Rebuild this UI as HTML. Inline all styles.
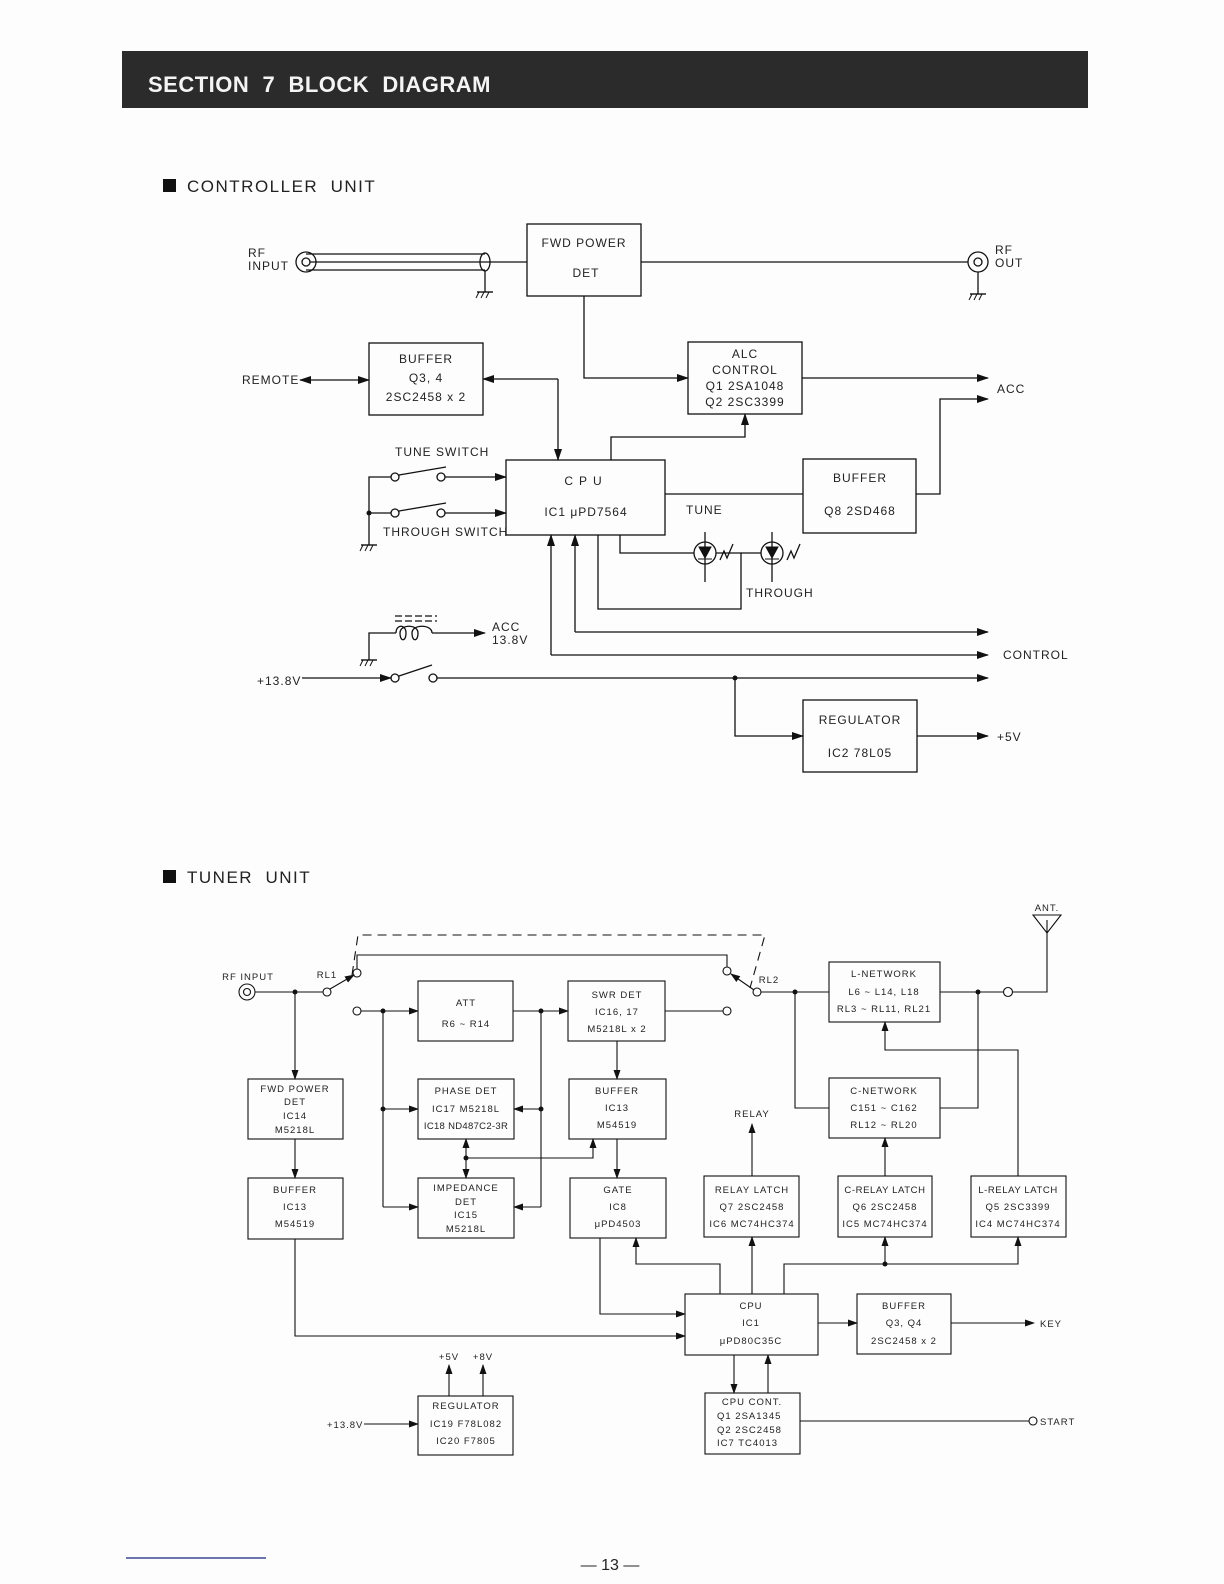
<!DOCTYPE html>
<html><head><meta charset="utf-8"><style>
html,body{margin:0;padding:0;background:#fdfdfd}
svg{display:block}
text{font-family:"Liberation Sans",sans-serif;fill:#222}
.c{font-size:12px;letter-spacing:1px}
.t{font-size:9.5px;letter-spacing:1px}
</style></head><body>
<svg width="1224" height="1584" viewBox="0 0 1224 1584" xmlns="http://www.w3.org/2000/svg">
<defs>
<marker id="a" markerWidth="12" markerHeight="8" refX="11" refY="4" orient="auto" markerUnits="userSpaceOnUse"><path d="M0,0 L12,4 L0,8 z" fill="#111"/></marker>
<marker id="s" markerWidth="10" markerHeight="7" refX="9" refY="3.5" orient="auto" markerUnits="userSpaceOnUse"><path d="M0,0 L10,3.5 L0,7 z" fill="#111"/></marker>
<marker id="ar" markerWidth="12" markerHeight="8" refX="1" refY="4" orient="auto" markerUnits="userSpaceOnUse"><path d="M12,0 L0,4 L12,8 z" fill="#111"/></marker>
<g id="gnd"><line x1="-8" y1="0" x2="8" y2="0" stroke="#111" stroke-width="1.4"/><line x1="-6" y1="0" x2="-9" y2="6" stroke="#111"/><line x1="-1" y1="0" x2="-4" y2="6" stroke="#111"/><line x1="4" y1="0" x2="1" y2="6" stroke="#111"/></g>
</defs>
<rect x="122" y="51" width="966" height="57" fill="#2b2b2b"/>
<text x="148" y="92" style="font-size:22px;font-weight:bold;fill:#f4f4f4;letter-spacing:0.5px">SECTION&#160;&#160;7&#160;&#160;BLOCK&#160;&#160;DIAGRAM</text>

<rect x="163" y="179" width="13" height="13" fill="#111"/>
<text x="187" y="192" style="font-size:17px;letter-spacing:1.5px">CONTROLLER&#160;&#160;UNIT</text>

<g stroke="#111" stroke-width="1.3" fill="none">
<rect x="527" y="224" width="114" height="72"/>
<rect x="688" y="342" width="114" height="72"/>
<rect x="369" y="343" width="114" height="72"/>
<rect x="506" y="460" width="159" height="75"/>
<rect x="803" y="459" width="113" height="74"/>
<rect x="803" y="700" width="114" height="72"/>
<circle cx="306" cy="262" r="10"/><circle cx="306" cy="262" r="4"/>
<line x1="306" y1="254" x2="485" y2="254"/><line x1="306" y1="270" x2="485" y2="270"/>
<line x1="310" y1="262" x2="527" y2="262"/>
<ellipse cx="485" cy="262" rx="5" ry="9"/>
<line x1="485" y1="271" x2="485" y2="292"/>
<line x1="641" y1="262" x2="968" y2="262"/>
<circle cx="978" cy="262" r="10"/><circle cx="978" cy="262" r="4"/>
<line x1="978" y1="272" x2="978" y2="294"/>
<polyline points="584,296 584,378 688,378" marker-end="url(#a)"/>
<line x1="802" y1="378" x2="988" y2="378" marker-end="url(#a)"/>
<polyline points="916,494 940,494 940,399 988,399" marker-end="url(#a)"/>
<line x1="300" y1="380" x2="369" y2="380" marker-end="url(#a)" marker-start="url(#ar)"/>
<polyline points="558,379 483,379" marker-end="url(#a)"/>
<line x1="558" y1="379" x2="558" y2="460" marker-end="url(#a)"/>
<polyline points="611,460 611,437 745,437 745,414" marker-end="url(#a)"/>
<line x1="665" y1="494" x2="803" y2="494"/>
<polyline points="369,545 369,477 391,477"/>
<circle cx="395" cy="477" r="4"/><line x1="399" y1="475" x2="446" y2="467"/>
<circle cx="441" cy="477" r="4"/><line x1="445" y1="477" x2="506" y2="477" marker-end="url(#a)"/>
<line x1="369" y1="513" x2="391" y2="513"/>
<circle cx="395" cy="513" r="4"/><line x1="399" y1="511" x2="446" y2="503"/>
<circle cx="441" cy="513" r="4"/><line x1="445" y1="513" x2="506" y2="513" marker-end="url(#a)"/>
<polyline points="620,535 620,553 694,553"/>
<circle cx="705" cy="553" r="11"/><line x1="705" y1="532" x2="705" y2="582"/>
<polyline points="716,553 741,553 741,609 598,609 598,535"/>
<line x1="741" y1="553" x2="761" y2="553"/>
<circle cx="772" cy="553" r="11"/><line x1="772" y1="532" x2="772" y2="582"/>
<polyline points="720,560 724,551 727,558 733,544"/>
<polyline points="787,560 791,551 794,558 800,544"/>
<line x1="575" y1="632" x2="575" y2="535" marker-end="url(#a)"/>
<line x1="575" y1="632" x2="988" y2="632" marker-end="url(#a)"/>
<line x1="551" y1="655" x2="551" y2="535" marker-end="url(#a)"/>
<line x1="551" y1="655" x2="988" y2="655" marker-end="url(#a)"/>
<polyline points="369,660 369,633 396,633"/>
<path d="M396,633 C396,624 406,624 406,633 C406,642 400,642 400,633 C400,624 418,624 418,633 C418,642 412,642 412,633 C412,624 432,624 432,633"/>
<line x1="432" y1="633" x2="485" y2="633" marker-end="url(#a)"/>
<line x1="395" y1="616" x2="437" y2="616" stroke-dasharray="7,3"/>
<line x1="395" y1="621" x2="437" y2="621" stroke-dasharray="7,3"/>
<line x1="302" y1="678" x2="391" y2="678" marker-end="url(#a)"/>
<circle cx="395" cy="678" r="4"/><line x1="399" y1="676" x2="432" y2="665"/>
<circle cx="433" cy="678" r="4"/><line x1="437" y1="678" x2="988" y2="678" marker-end="url(#a)"/>
<polyline points="735,678 735,736 803,736" marker-end="url(#a)"/>
<line x1="917" y1="736" x2="988" y2="736" marker-end="url(#a)"/>
</g>
<path d="M699,547 L711,547 L705,558 z M698,559 L712,559" fill="#111" stroke="#111"/>
<path d="M766,547 L778,547 L772,558 z M765,559 L779,559" fill="#111" stroke="#111"/>
<circle cx="369" cy="513" r="2.5" fill="#111"/>
<circle cx="735" cy="678" r="2.5" fill="#111"/>
<use href="#gnd" x="485" y="292"/><use href="#gnd" x="978" y="294"/>
<use href="#gnd" x="369" y="545"/><use href="#gnd" x="369" y="660"/>

<g class="c">
<text x="248" y="257">RF</text><text x="248" y="270">INPUT</text>
<text x="995" y="254">RF</text><text x="995" y="267">OUT</text>
<text x="584" y="247" text-anchor="middle">FWD POWER</text><text x="586" y="277" text-anchor="middle">DET</text>
<text x="745" y="358" text-anchor="middle">ALC</text><text x="745" y="374" text-anchor="middle">CONTROL</text>
<text x="745" y="390" text-anchor="middle">Q1 2SA1048</text><text x="745" y="406" text-anchor="middle">Q2 2SC3399</text>
<text x="997" y="393">ACC</text>
<text x="242" y="384">REMOTE</text>
<text x="426" y="363" text-anchor="middle">BUFFER</text><text x="426" y="382" text-anchor="middle">Q3, 4</text><text x="426" y="401" text-anchor="middle">2SC2458 x 2</text>
<text x="586" y="485" text-anchor="middle" style="letter-spacing:6px">CPU</text>
<text x="586" y="516" text-anchor="middle">IC1 μPD7564</text>
<text x="860" y="482" text-anchor="middle">BUFFER</text><text x="860" y="515" text-anchor="middle">Q8 2SD468</text>
<text x="686" y="514">TUNE</text>
<text x="395" y="456">TUNE SWITCH</text>
<text x="383" y="536">THROUGH SWITCH</text>
<text x="746" y="597">THROUGH</text>
<text x="492" y="631">ACC</text><text x="492" y="644">13.8V</text>
<text x="1003" y="659">CONTROL</text>
<text x="257" y="685">+13.8V</text>
<text x="860" y="724" text-anchor="middle">REGULATOR</text><text x="860" y="757" text-anchor="middle">IC2 78L05</text>
<text x="997" y="741">+5V</text>
</g>

<rect x="163" y="870" width="13" height="13" fill="#111"/>
<text x="187" y="883" style="font-size:17px;letter-spacing:1.5px">TUNER&#160;&#160;UNIT</text>

<g stroke="#111" stroke-width="1.1" fill="none">
<rect x="418" y="981" width="95" height="60"/>
<rect x="568" y="981" width="97" height="60"/>
<rect x="418" y="1079" width="96" height="60"/>
<rect x="418" y="1178" width="96" height="60"/>
<rect x="569" y="1079" width="97" height="60"/>
<rect x="570" y="1178" width="96" height="60"/>
<rect x="248" y="1079" width="95" height="60"/>
<rect x="248" y="1178" width="95" height="61"/>
<rect x="704" y="1176" width="95" height="61"/>
<rect x="838" y="1176" width="94" height="61"/>
<rect x="971" y="1176" width="95" height="61"/>
<rect x="829" y="1078" width="111" height="60"/>
<rect x="829" y="962" width="111" height="60"/>
<rect x="685" y="1294" width="133" height="61"/>
<rect x="857" y="1294" width="94" height="60"/>
<rect x="705" y="1393" width="95" height="61"/>
<rect x="418" y="1396" width="95" height="59"/>
<circle cx="247" cy="992" r="8"/><circle cx="247" cy="992" r="3.5"/>
<line x1="255" y1="992" x2="323" y2="992"/>
<circle cx="327" cy="992" r="4"/>
<line x1="330" y1="989" x2="354" y2="975" marker-end="url(#s)"/>
<circle cx="357" cy="973" r="4"/>
<polyline points="357,969 357,955 727,955 727,967"/>
<circle cx="727" cy="971" r="4"/>
<line x1="754" y1="990" x2="731" y2="974" marker-end="url(#s)"/>
<circle cx="757" cy="992" r="4"/>
<line x1="761" y1="992" x2="829" y2="992"/>
<polyline points="352,975 358,935 765,935 750,988" stroke-dasharray="9,6"/>
<circle cx="357" cy="1011" r="4"/>
<line x1="361" y1="1011" x2="418" y2="1011" marker-end="url(#s)"/>
<line x1="513" y1="1011" x2="568" y2="1011" marker-end="url(#s)"/>
<line x1="665" y1="1011" x2="723" y2="1011"/><circle cx="727" cy="1011" r="4"/>
<line x1="383" y1="1011" x2="383" y2="1207"/>
<line x1="383" y1="1109" x2="418" y2="1109" marker-end="url(#s)"/>
<line x1="383" y1="1207" x2="418" y2="1207" marker-end="url(#s)"/>
<line x1="541" y1="1011" x2="541" y2="1207"/>
<line x1="541" y1="1109" x2="514" y2="1109" marker-end="url(#s)"/>
<line x1="541" y1="1207" x2="514" y2="1207" marker-end="url(#s)"/>
<line x1="466" y1="1158" x2="466" y2="1139" marker-end="url(#s)"/>
<line x1="466" y1="1158" x2="466" y2="1178" marker-end="url(#s)"/>
<polyline points="466,1158 593,1158 593,1139" marker-end="url(#s)"/>
<line x1="617" y1="1041" x2="617" y2="1079" marker-end="url(#s)"/>
<line x1="617" y1="1139" x2="617" y2="1178" marker-end="url(#s)"/>
<line x1="295" y1="992" x2="295" y2="1079" marker-end="url(#s)"/>
<line x1="295" y1="1139" x2="295" y2="1178" marker-end="url(#s)"/>
<polyline points="295,1239 295,1336 685,1336" marker-end="url(#s)"/>
<polyline points="600,1238 600,1314 685,1314" marker-end="url(#s)"/>
<polyline points="720,1294 720,1264 636,1264 636,1238" marker-end="url(#s)"/>
<line x1="752" y1="1294" x2="752" y2="1237" marker-end="url(#s)"/>
<polyline points="784,1294 784,1264 1018,1264 1018,1237" marker-end="url(#s)"/>
<line x1="885" y1="1264" x2="885" y2="1237" marker-end="url(#s)"/>
<line x1="752" y1="1176" x2="752" y2="1124" marker-end="url(#s)"/>
<line x1="885" y1="1176" x2="885" y2="1138" marker-end="url(#s)"/>
<polyline points="795,992 795,1108 829,1108"/>
<polyline points="940,1108 978,1108 978,992"/>
<line x1="940" y1="992" x2="1004" y2="992"/>
<circle cx="1008" cy="992" r="4.5"/>
<polyline points="1012,992 1047,992 1047,920"/>
<path d="M1033,915 L1061,915 L1047,933 z"/>
<polyline points="1018,1176 1018,1050 885,1050 885,1022" marker-end="url(#s)"/>
<line x1="818" y1="1323" x2="857" y2="1323" marker-end="url(#s)"/>
<line x1="951" y1="1323" x2="1034" y2="1323" marker-end="url(#s)"/>
<line x1="734" y1="1355" x2="734" y2="1393" marker-end="url(#s)"/>
<line x1="768" y1="1393" x2="768" y2="1355" marker-end="url(#s)"/>
<line x1="800" y1="1421" x2="1029" y2="1421"/><circle cx="1033" cy="1421" r="4"/>
<line x1="364" y1="1424" x2="418" y2="1424" marker-end="url(#s)"/>
<line x1="449" y1="1396" x2="449" y2="1365" marker-end="url(#s)"/>
<line x1="483" y1="1396" x2="483" y2="1365" marker-end="url(#s)"/>
</g>
<g fill="#111">
<circle cx="295" cy="992" r="2.5"/><circle cx="383" cy="1011" r="2.5"/><circle cx="383" cy="1109" r="2.5"/>
<circle cx="541" cy="1011" r="2.5"/><circle cx="541" cy="1109" r="2.5"/><circle cx="466" cy="1158" r="2.5"/>
<circle cx="795" cy="992" r="2.5"/><circle cx="978" cy="992" r="2.5"/><circle cx="885" cy="1264" r="2.5"/>
</g>
<g class="t" text-anchor="middle">
<text x="248" y="980">RF INPUT</text>
<text x="327" y="978">RL1</text>
<text x="769" y="983">RL2</text>
<text x="1047" y="911">ANT.</text>
<text x="466" y="1006">ATT</text><text x="466" y="1027">R6 ~ R14</text>
<text x="617" y="998">SWR DET</text><text x="617" y="1015">IC16, 17</text><text x="617" y="1032">M5218L x 2</text>
<text x="295" y="1092">FWD POWER</text><text x="295" y="1105">DET</text><text x="295" y="1119">IC14</text><text x="295" y="1133">M5218L</text>
<text x="466" y="1094">PHASE DET</text><text x="466" y="1112">IC17 M5218L</text><text x="466" y="1129" style="letter-spacing:0.3px">IC18 ND487C2-3R</text>
<text x="466" y="1191">IMPEDANCE</text><text x="466" y="1205">DET</text><text x="466" y="1218">IC15</text><text x="466" y="1232">M5218L</text>
<text x="617" y="1094">BUFFER</text><text x="617" y="1111">IC13</text><text x="617" y="1128">M54519</text>
<text x="618" y="1193">GATE</text><text x="618" y="1210">IC8</text><text x="618" y="1227">μPD4503</text>
<text x="295" y="1193">BUFFER</text><text x="295" y="1210">IC13</text><text x="295" y="1227">M54519</text>
<text x="752" y="1117">RELAY</text>
<text x="752" y="1193">RELAY LATCH</text><text x="752" y="1210">Q7 2SC2458</text><text x="752" y="1227">IC6 MC74HC374</text>
<text x="885" y="1193" style="letter-spacing:0.6px">C-RELAY LATCH</text><text x="885" y="1210">Q6 2SC2458</text><text x="885" y="1227">IC5 MC74HC374</text>
<text x="1018" y="1193" style="letter-spacing:0.6px">L-RELAY LATCH</text><text x="1018" y="1210">Q5 2SC3399</text><text x="1018" y="1227">IC4 MC74HC374</text>
<text x="884" y="1094">C-NETWORK</text><text x="884" y="1111">C151 ~ C162</text><text x="884" y="1128">RL12 ~ RL20</text>
<text x="884" y="977">L-NETWORK</text><text x="884" y="995">L6 ~ L14, L18</text><text x="884" y="1012">RL3 ~ RL11, RL21</text>
<text x="751" y="1309">CPU</text><text x="751" y="1326">IC1</text><text x="751" y="1344">μPD80C35C</text>
<text x="904" y="1309">BUFFER</text><text x="904" y="1326">Q3, Q4</text><text x="904" y="1344">2SC2458 x 2</text>
<text x="752" y="1405">CPU CONT.</text>
<text x="466" y="1409">REGULATOR</text><text x="466" y="1427">IC19 F78L082</text><text x="466" y="1444">IC20 F7805</text>
<text x="449" y="1360">+5V</text><text x="483" y="1360">+8V</text>
</g>
<g class="t">
<text x="717" y="1419">Q1 2SA1345</text><text x="717" y="1433">Q2 2SC2458</text><text x="717" y="1446">IC7 TC4013</text>
<text x="1040" y="1327">KEY</text><text x="1040" y="1425">START</text>
<text x="327" y="1428">+13.8V</text>
</g>
<line x1="126" y1="1558" x2="266" y2="1558" stroke="#1a237e" stroke-width="1.2"/>
<text x="610" y="1570" text-anchor="middle" style="font-size:16px">— 13 —</text>
</svg>
</body></html>
